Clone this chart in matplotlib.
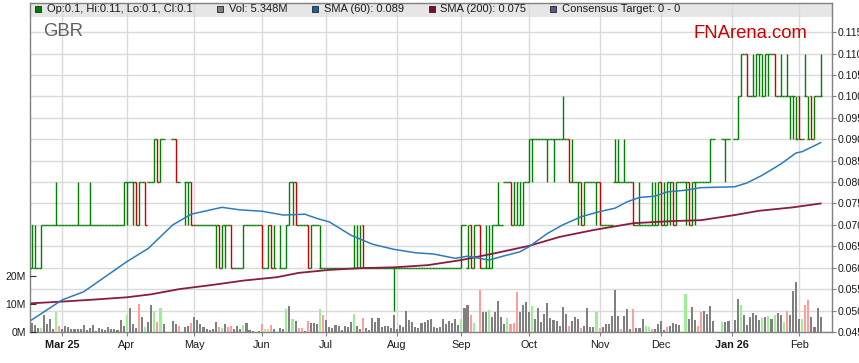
# GBR price chart (FNArena style)

# %% Importing libraries
import numpy as np
import pandas as pd
import matplotlib
matplotlib.use("Agg")
import matplotlib.pyplot as plt
from matplotlib.patches import Rectangle

plt.rcParams['font.family'] = ['Liberation Sans', 'DejaVu Sans']

# %% Data (prices in cents, None = market holiday)
first_day = "2025-02-17"  # one bar per weekday from here
N = None

opens = [6,6,6,6,7,7,7,7,7,7, 7,7,7,7,7,7,7,7,7,7, 7,7,7,7,7,7,7,7,7,7,
         7,8,8,8,8,7,8,8,8,8, 8,9,8,9,N,N,9,9,8,N, 8,8,8,7,7,7,7,7,7,7,
         7,7,6,7,7,7,6,6,6,6, 7,7,7,7,7,7,6,6,7,6, N,6,6,6,7,8,8,7,7,7,
         7,6,7,7,6,6,6,6,6,6, 6,6,6,6,6,6,6,6,7,6, 6,6,6,6,6,6,6,6,6,6,
         6,6,6,6,6,6,6,6,6,6, 6,6,6,6,6,6,6,6,6,6, 6,7,6,7,6,7,7,6,6,6,
         6,7,7,7,8,8,8,7,7,7, 7,8,8,9,9,9,9,9,9,9, 9,9,9,9,9,9,8,8,8,8,
         7,8,8,8,8,8,7,7,7,7, 8,8,8,8,8,8,8,7,7,7, 7,7,7,7,7,8,7,7,8,8,
         7,8,8,8,8,7,8,8,8,8, 8,8,9,N,N,9,9,9,N,9, 9,10,11,11,10,10,10,11,10,10,
         11,11,11,10,10,10,10,10,10,9, 10,9,10,9,10,9,10,10]
highs = [7,7,6,7,7,7,7,7,8,7, 7,7,7,7,7,8,7,7,7,8, 7,7,7,7,7,7,7,7,7,7,
         8,8,8,8,8,8,8,8,8,8, 9,9,9,9,N,N,9,9,8,N, 8,8,8,7,7,7,7,7,7,7,
         7,7,7,7,7,7,6,6,6,7, 7,7,7,7,7,7,6,7,7,7, N,7,6,7,8,8,8,7,7,7,
         7,7,7,7,7,6,6,6,6,6, 6,6,6,6,6,7,7,7,7,6, 6,6,6,6,6,6,6,6,6,6,
         6,6,6,6,6,6,6,6,6,6, 6,6,6,6,6,6,6,6,6,6, 7,7,7,7,7,7,7,6,7,7,
         7,7,8,7,8,8,8,8,8,8, 8,8,9,9,9,9,9,9,9,9, 9,9,9,10,9,9,9,8,8,8,
         8,8,8,8,8,8,7,7,7,7, 9,9,8,9,8,8,8,7,8,7, 7,7,8,8,8,8,8,8,8,8,
         8,8,8,8,8,8,8,8,8,8, 8,9,9,N,N,9,9,9,N,9, 10,11,11,11,10,11,11,11,11,11,
         11,11,11,10,11,10,11,10,10,10, 10,9,11,10,10,10,10,11]
lows = [6,6,6,6,7,7,7,7,7,7, 7,7,7,7,7,7,7,7,7,7, 7,7,7,7,7,7,7,7,7,7,
        7,7,8,7,7,7,8,7,8,8, 8,8,8,9,N,N,9,8,8,N, 7,7,7,7,7,7,7,7,7,7,
        6,6,6,6,7,6,6,6,6,6, 7,7,7,7,7,6,6,6,6,6, N,6,6,6,7,7,7,7,7,7,
        6,6,7,7,6,6,6,6,6,6, 6,6,6,6,6,6,6,6,6,6, 6,6,6,6,6,6,6,6,5,6,
        6,6,6,6,6,6,6,6,6,6, 6,6,6,6,6,6,6,6,6,6, 6,7,6,6,6,7,6,6,6,6,
        6,7,7,7,8,8,7,7,7,7, 7,8,8,8,9,9,9,9,8,9, 8,9,9,9,9,8,8,8,7,7,
        7,8,8,8,7,7,7,7,7,7, 8,8,8,8,8,8,7,7,7,7, 7,7,7,7,7,7,7,7,7,7,
        7,8,8,7,7,7,7,8,8,8, 8,8,9,N,N,9,8,9,N,9, 9,10,11,10,10,10,10,10,10,10,
        10,11,10,10,10,10,10,9,9,9, 9,9,10,9,9,9,10,10]
closes = [7,6,6,7,7,7,7,7,7,7, 7,7,7,7,7,7,7,7,7,7, 7,7,7,7,7,7,7,7,7,7,
          8,8,8,8,7,8,8,7,8,8, 9,8,9,9,N,N,9,8,8,N, 8,8,7,7,7,7,7,7,7,7,
          7,6,7,7,7,6,6,6,6,7, 7,7,7,7,7,6,6,7,6,6, N,6,6,7,8,8,7,7,7,7,
          6,7,7,7,6,6,6,6,6,6, 6,6,6,6,6,6,6,6,6,6, 6,6,6,6,6,6,6,6,6,6,
          6,6,6,6,6,6,6,6,6,6, 6,6,6,6,6,6,6,6,6,6, 7,7,6,6,7,7,6,6,6,6,
          7,7,7,7,8,8,7,8,8,8, 8,8,9,9,9,9,9,9,9,9, 9,9,9,9,9,8,8,8,8,7,
          8,8,8,8,8,7,7,7,7,7, 8,8,8,8,8,8,7,7,7,7, 7,7,7,7,8,7,7,8,8,7,
          8,8,8,8,7,8,8,8,8,8, 8,9,9,N,N,9,9,9,N,9, 10,11,11,10,10,10,11,11,10,11,
          11,11,10,10,10,10,10,10,10,9, 9,9,10,9,9,10,10,10]

# volume in millions
volume = [3.1,2.5,1.5,1.5,6.0,3.0,4.6,1.0,7.0,2.1, 1.0,2.1,1.9,1.2,1.0,1.2,1.2,2.6,0.7,1.5,
          2.5,0.5,1.4,1.2,0.7,1.8,1.1,1.2,0.7,4.3, 2.1,6.0,8.6,2.9,1.5,10.0,5.4,1.7,3.7,9.6,
          7.6,3.6,8.6,2.9,N,N,3.9,3.0,2.0,N, 1.8,2.0,3.2,5.2,4.2,2.7,1.8,1.1,0.8,1.1,
          3.6,1.7,1.4,2.8,1.8,2.3,1.1,2.3,1.2,2.4, 3.2,0.6,0.5,0.0,0.5,2.7,1.1,1.1,2.4,1.2,
          N,1.4,1.2,8.2,9.3,4.6,4.0,1.5,1.5,0.3, 4.0,3.1,3.3,2.9,8.2,6.0,4.4,1.7,1.4,2.5,
          2.1,0.7,2.0,1.9,3.4,6.4,2.1,1.2,5.1,1.3, 0.7,5.0,3.4,5.0,1.9,2.1,2.1,1.4,6.0,1.2,
          2.4,1.7,7.6,4.3,3.4,1.9,1.3,3.3,3.7,4.3, 4.6,1.8,1.5,1.8,4.5,2.9,3.9,3.1,4.6,2.4,
          4.6,8.6,9.6,6.0,3.3,0.0,15.0,7.3,7.3,7.9, 5.4,7.1,11.1,5.2,2.9,5.0,2.7,3.2,14.3,7.3,
          9.6,10.7,7.3,9.3,4.5,8.7,3.7,6.3,10.2,5.0, 4.3,4.0,2.0,9.0,6.4,2.1,3.9,5.5,4.8,1.5,
          2.3,8.7,1.9,1.7,7.1,1.5,1.7,2.9,2.9,5.7, 15.1,5.8,1.2,5.7,8.3,1.0,8.1,1.6,1.3,4.6,
          2.1,1.8,1.1,1.1,2.8,3.9,0.7,1.8,2.3,3.2, 2.9,2.5,0.0,13.6,4.8,9.0,4.4,2.3,7.3,7.6,
          6.5,9.4,4.0,N,N,3.6,3.6,3.9,N,4.3, 11.8,9.7,6.0,2.4,5.5,6.7,6.0,4.4,4.9,5.2,
          5.6,4.5,6.0,6.7,6.0,3.7,7.5,6.0,14.6,17.9, 4.8,4.8,9.6,11.4,5.5,1.9,8.6,5.5]
# volume bar colour code: g = grey, u = up (green), d = down (red)
vol_kind = list("ggguggggud" "gggggggggg" "gggggggggg" "gugggdgugg"
                "udugggggdg" "ggdggggggg" "gdugddgggu" "gggggduudg"
                "gggugugddg" "dgggudgggg" "ggggguggdg" "gggggggggg"
                "gggggggggg" "gggggggggg" "uggdugdggu" "gggggudddg"
                "gggugggggg" "gggggdgggd" "ggggudgggg" "ggdgggdggg"
                "uudggggdgg" "gggugggddg" "gggudugggg" "guggggggug"
                "uguggudggg" "guddgggggg" "dguudgug")

# moving averages (trading-day index, value)
sma60_x = [0, 10, 17, 24, 31, 38, 46, 52, 62, 68, 75, 82, 89, 93, 97, 104, 111, 118,
           125, 131, 138, 142, 145, 149, 153, 159, 162, 168, 173, 179, 185, 190, 194,
           198, 203, 207, 213, 218, 229, 233, 238, 244, 249, 251, 257]
sma60_y = [0.0478, 0.0525, 0.0544, 0.0579, 0.0614, 0.0645, 0.0700, 0.0725, 0.0741,
           0.0735, 0.0732, 0.0723, 0.0725, 0.0715, 0.0707, 0.0676, 0.0655, 0.0643,
           0.0635, 0.0632, 0.0622, 0.0627, 0.0623, 0.0618, 0.0626, 0.0637, 0.0649,
           0.0680, 0.0700, 0.0719, 0.0731, 0.0739, 0.0754, 0.0764, 0.0767, 0.0777,
           0.0781, 0.0787, 0.0789, 0.0798, 0.0816, 0.0842, 0.0868, 0.0871, 0.0892]
sma200_x = [0, 10, 21, 31, 39, 48, 59, 69, 80, 87, 97, 107, 118, 129, 140, 151, 162,
            172, 183, 196, 209, 218, 229, 237, 248, 257]
sma200_y = [0.0517, 0.0521, 0.0526, 0.0531, 0.0538, 0.0550, 0.0560, 0.0570, 0.0578,
            0.0588, 0.0595, 0.0599, 0.0601, 0.0606, 0.0618, 0.0634, 0.0651, 0.0672,
            0.0688, 0.0704, 0.0709, 0.0711, 0.0723, 0.0733, 0.0741, 0.0750]

price_ticks = [0.045, 0.05, 0.055, 0.06, 0.065, 0.07, 0.075, 0.08, 0.085, 0.09,
               0.095, 0.1, 0.105, 0.11, 0.115]
vol_ticks = [0, 10e6, 20e6]
vol_labels = ["0M", "10M", "20M"]

legend_items = [("#008000", "Op:0.1, Hi:0.11, Lo:0.1, Cl:0.1", 35, 46.7),
                ("#808080", "Vol: 5.348M", 216.7, 228.7),
                ("#1a62a3", "SMA (60): 0.089", 311.7, 324.3),
                ("#7a1030", "SMA (200): 0.075", 428.5, 440),
                ("#5a5a8a", "Consensus Target: 0 - 0", 550, 561.7)]

# %% Preparing arrays
n = len(closes)
x = np.arange(n)
dates = pd.bdate_range(first_day, periods=n)
o = np.array(opens, dtype=float) / 100
h = np.array(highs, dtype=float) / 100
l = np.array(lows, dtype=float) / 100
c = np.array(closes, dtype=float) / 100
v = np.array(volume, dtype=float) * 1e6
ok = ~np.isnan(c)
vok = ~np.isnan(v)
bar_col = np.where(c >= o, "#008000", "#cc0000")
kind_col = {"g": "#808080", "u": "#9cef94", "d": "#ff9c9c"}
vcol = [kind_col[k] for k in vol_kind]

# month ticks: first weekday of every month, year shown (bold) on first tick and January
tick_pos, tick_lab, tick_bold = [], [], []
for i, d in enumerate(dates):
    if i > 0 and d.month != dates[i - 1].month:
        with_year = len(tick_pos) == 0 or d.month == 1
        tick_lab.append(d.strftime("%b %y") if with_year else d.strftime("%b"))
        tick_bold.append(with_year)
        tick_pos.append(i)

# %% Plot
W, H = 859, 363
fig = plt.figure(figsize=(W / 100, H / 100), dpi=100)
axg = fig.add_axes([30 / W, 31 / H, 802 / W, 329 / H])
axv = axg.twinx()
axp = axg.twinx()

for a in (axg, axp):
    a.set_ylim(0.045, 0.1218)
axg.set_xlim(-0.5, 260.7)
axv.set_ylim(0, 117.5e6)

# background: grid and legend band
axg.set_axisbelow(True)
axg.grid(True, color="#dadada", lw=1.0)
axg.add_patch(Rectangle((0, 1 - 14 / 329), 1, 14 / 329, transform=axg.transAxes,
                        color="#e6e6e6", zorder=0.2, lw=0))
axg.set_yticks(price_ticks)
axg.set_yticklabels([f"{t:.3f}" for t in price_ticks])
axg.yaxis.tick_right()
axg.tick_params(axis="y", direction="out", length=3, pad=1, labelsize=7.6,
                colors="#808080", labelcolor="#1a1a1a")
axg.set_xticks(tick_pos)
axg.set_xticklabels(tick_lab)
axg.tick_params(axis="x", direction="out", length=3, pad=2.5, labelsize=7.8,
                colors="#808080", labelcolor="#1a1a1a")
for lab, b in zip(axg.get_xticklabels(), tick_bold):
    if b:
        lab.set_fontweight("bold")
for s in axg.spines.values():
    s.set_color("#808080")
    s.set_linewidth(1.0)

# volume
axv.bar(x[vok], v[vok], width=0.68, color=[vcol[i] for i in x[vok]], lw=0)
axv.yaxis.tick_left()
axv.set_yticks(vol_ticks)
axv.set_yticklabels(vol_labels)
axv.tick_params(axis="y", direction="in", length=4, pad=3, labelsize=7.5,
                colors="#333333", labelcolor="#1a1a1a")
for s in axv.spines.values():
    s.set_visible(False)

# price bars and moving averages
axp.vlines(x[ok], l[ok], h[ok], colors=bar_col[ok], lw=1.0)
axp.hlines(o[ok], x[ok] - 0.5, x[ok], colors=bar_col[ok], lw=1.0)
axp.hlines(c[ok], x[ok], x[ok] + 0.5, colors=bar_col[ok], lw=1.0)
axp.plot(sma200_x, sma200_y, color="#8a1c3e", lw=1.3)
axp.plot(sma60_x, sma60_y, color="#2c7cbc", lw=1.1)
axp.set_yticks([])
for s in axp.spines.values():
    s.set_visible(False)

# legend strip, ticker and brand
for col, txt, sx, tx in legend_items:
    fig.patches.append(Rectangle((sx / W, 1 - 12 / H), 6 / W, 6 / H, transform=fig.transFigure,
                                 facecolor=col, edgecolor="#222222", lw=0.6))
    fig.text(tx / W, 1 - 9.5 / H, txt, fontsize=8, color="#1a1a1a", va="center", ha="left")
fig.text(42.7 / W, 1 - 32 / H, "GBR", fontsize=13.3, color="#606060", va="center", ha="left")
fig.text(807.7 / W, 1 - 33 / H, "FNArena.com", fontsize=13.3, color="#cc0000",
         va="center", ha="right")

fig.savefig("out.png", dpi=100)
plt.close()
print("Your output has been created")
